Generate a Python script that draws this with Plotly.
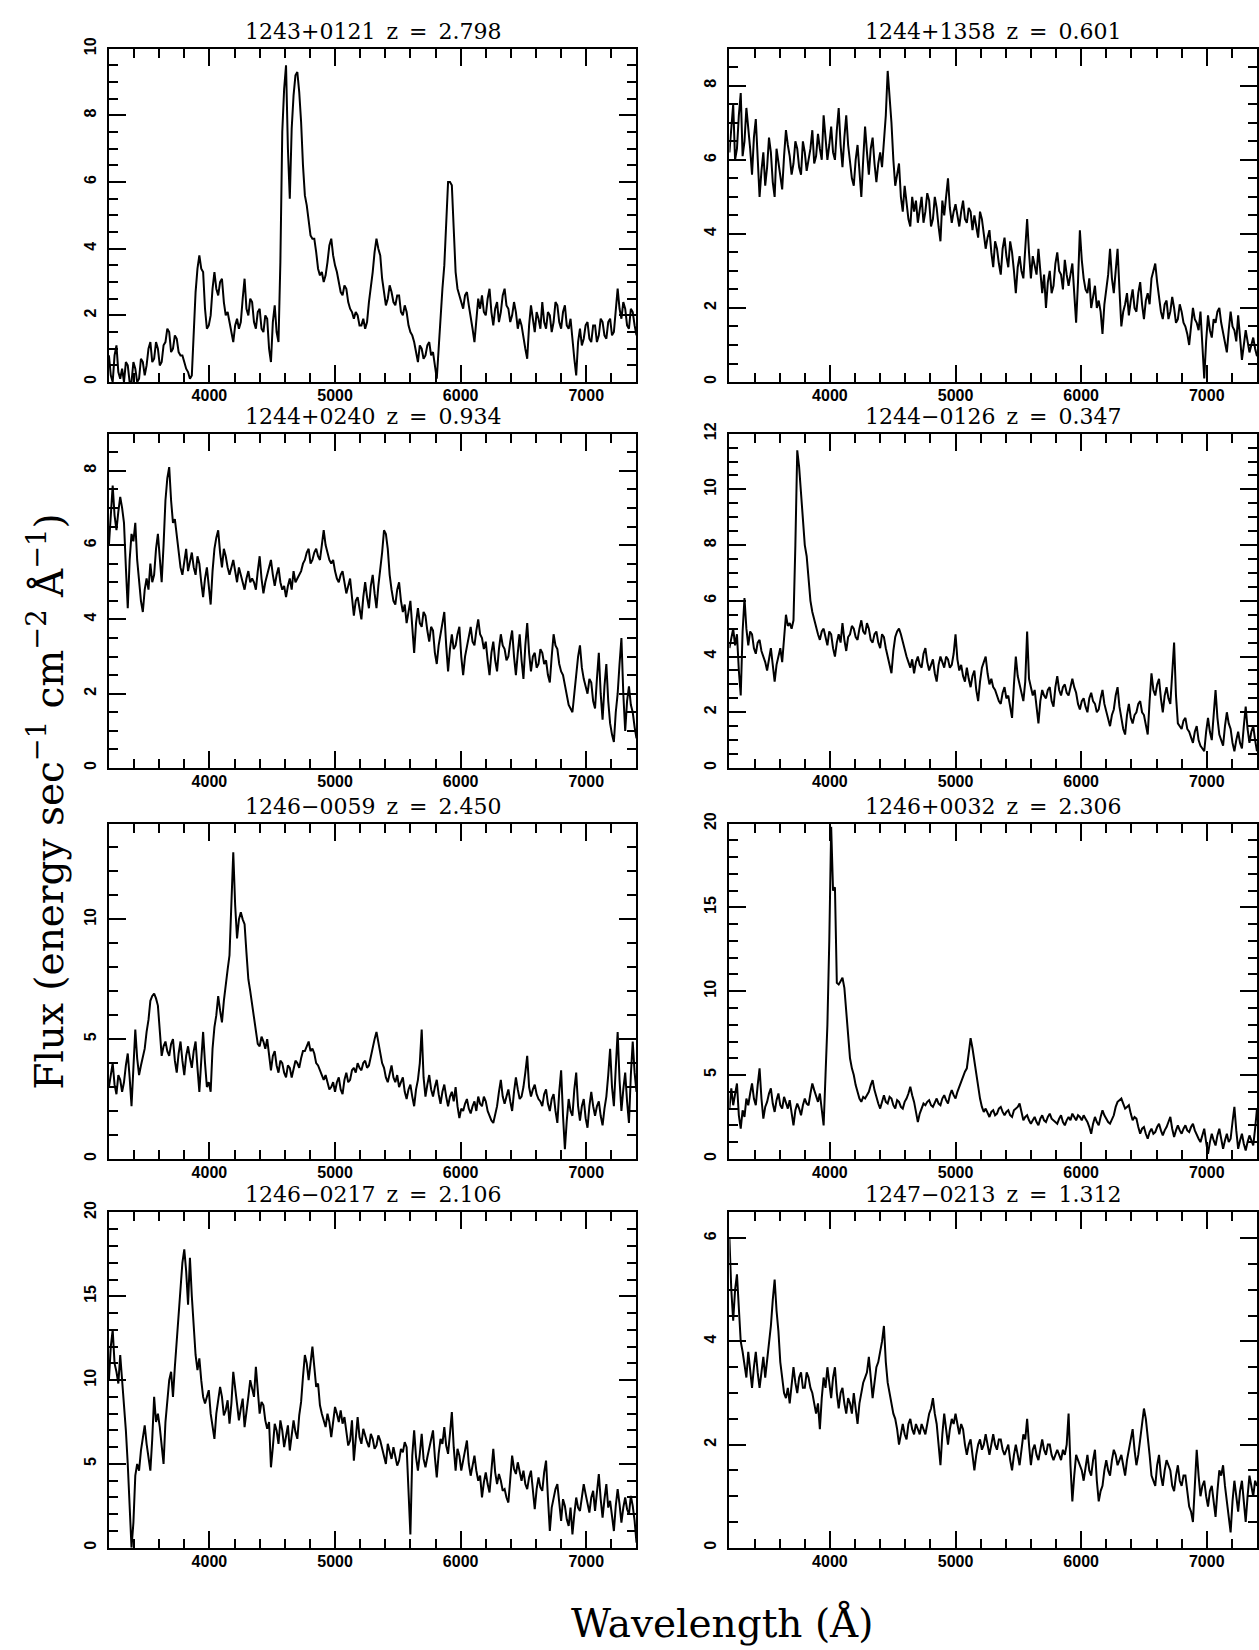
import plotly.graph_objects as go

# ---------------- data ----------------
# wavelength sampling grid (Angstrom)
WAVELENGTH = list(range(3200, 7401, 15))

NAMES = ["1243+0121", "1244+1358", "1244+0240", "1244\u22120126",
         "1246\u22120059", "1246+0032", "1246\u22120217", "1247\u22120213"]
REDSHIFTS = ["2.798", "0.601", "0.934", "0.347", "2.450", "2.306", "2.106", "1.312"]

FLUX_1243_0121 = [
    0.8, 0.2, 0.0, 0.8, 1.1, 0.3, 0.1, 0.4, 0.0, 0.6, 0.5, 0.0, 0.0, 0.6, 0.4, 0.0, 0.1, 0.7, 0.6, 0.2,
    0.5, 1.0, 1.2, 0.6, 0.7, 1.2, 1.0, 0.5, 0.6, 1.1, 1.2, 1.6, 1.5, 0.9, 1.0, 1.4, 1.3, 0.9, 0.8, 0.8,
    0.6, 0.4, 0.3, 0.1, 0.2, 1.4, 2.7, 3.4, 3.8, 3.4, 3.3, 2.2, 1.6, 1.7, 2.0, 2.8, 3.3, 2.8, 2.6, 3.0,
    3.1, 2.4, 2.0, 2.1, 1.8, 1.6, 1.2, 1.7, 1.9, 1.6, 1.8, 2.5, 3.1, 2.2, 2.0, 2.5, 2.4, 1.8, 1.6, 2.1,
    2.2, 1.6, 1.5, 2.0, 1.9, 1.0, 0.6, 1.8, 2.3, 1.5, 1.2, 3.6, 7.5, 8.8, 9.5, 7.0, 5.5, 7.6, 8.6, 9.2,
    9.3, 8.7, 7.8, 6.5, 5.6, 5.3, 4.8, 4.4, 4.3, 4.3, 3.9, 3.4, 3.2, 3.3, 3.0, 3.2, 3.6, 4.1, 4.3, 3.8,
    3.5, 3.3, 3.0, 2.7, 2.6, 2.9, 2.8, 2.4, 2.2, 2.1, 1.9, 2.1, 2.0, 1.7, 1.7, 1.9, 1.6, 1.8, 2.4, 2.8,
    3.3, 3.9, 4.3, 4.0, 3.8, 3.1, 2.6, 2.3, 2.5, 2.9, 2.7, 2.4, 2.3, 2.6, 2.6, 2.1, 2.0, 2.3, 2.1, 1.7,
    1.5, 1.4, 1.2, 0.9, 0.6, 1.1, 1.0, 0.7, 0.8, 1.1, 1.2, 0.8, 0.9, 0.5, 0.1, 1.0, 2.0, 2.8, 3.5, 4.8,
    6.0, 6.0, 5.9, 4.6, 3.3, 2.8, 2.6, 2.4, 2.2, 2.6, 2.7, 2.3, 2.0, 1.6, 1.2, 2.0, 2.5, 2.2, 2.6, 2.1,
    2.0, 2.5, 2.8, 2.1, 1.7, 2.2, 2.4, 1.8, 2.1, 2.6, 2.8, 2.3, 2.2, 1.8, 2.0, 2.4, 2.1, 1.6, 1.9, 1.7,
    1.3, 1.0, 0.7, 1.7, 2.3, 1.8, 1.5, 2.1, 1.9, 1.6, 2.4, 1.8, 1.6, 2.1, 2.0, 1.5, 1.8, 2.4, 2.3, 1.8,
    1.6, 2.1, 2.3, 1.7, 1.6, 1.9, 1.2, 0.7, 0.2, 1.2, 1.6, 1.1, 1.3, 1.7, 1.8, 1.3, 1.2, 1.7, 1.7, 1.2,
    1.4, 1.9, 1.8, 1.4, 1.3, 1.8, 1.9, 1.4, 1.5, 2.1, 2.8, 2.2, 1.9, 2.4, 2.2, 1.7, 1.6, 2.2, 2.1, 1.7,
    1.4,
]

FLUX_1244_1358 = [
    6.2, 6.8, 7.5, 6.0, 6.3, 7.2, 7.8, 6.1, 6.5, 7.4, 6.9, 6.3, 5.6, 6.6, 7.1, 5.9, 5.0, 5.7, 6.2, 5.3,
    5.8, 6.6, 6.2, 5.4, 5.0, 6.3, 5.9, 5.5, 5.2, 6.1, 6.8, 6.4, 6.1, 5.6, 5.9, 6.5, 6.3, 5.8, 5.6, 6.5,
    6.2, 5.7, 6.0, 6.3, 6.8, 5.9, 6.1, 6.7, 6.3, 6.0, 7.2, 6.5, 6.0, 6.4, 6.9, 6.2, 6.0, 6.8, 7.4, 6.4,
    5.8, 6.6, 7.2, 6.4, 6.0, 5.5, 5.3, 6.0, 6.4, 5.6, 5.0, 6.0, 6.9, 6.2, 5.6, 6.3, 6.6, 5.9, 5.4, 5.9,
    6.2, 5.8, 6.6, 7.2, 8.4, 7.8, 7.0, 6.0, 5.3, 5.6, 5.9, 5.0, 4.6, 5.3, 4.9, 4.4, 4.2, 5.0, 4.6, 4.9,
    4.3, 4.7, 5.0, 4.3, 4.6, 5.1, 4.9, 4.2, 4.4, 5.0, 4.7, 4.2, 3.8, 4.9, 4.5, 5.0, 5.5, 4.7, 4.3, 4.6,
    4.8, 4.5, 4.2, 4.6, 4.9, 4.4, 4.3, 4.7, 4.6, 4.1, 4.5, 4.2, 3.9, 4.6, 4.4, 4.0, 3.6, 3.9, 4.1, 3.5,
    3.1, 3.8, 3.6, 3.2, 2.9, 3.6, 3.9, 3.4, 3.1, 3.8, 3.5, 3.0, 2.4, 3.1, 3.4, 3.0, 2.8, 3.6, 4.4, 3.5,
    2.8, 3.4, 3.1, 2.9, 3.6, 3.0, 2.4, 2.9, 2.0, 2.7, 3.0, 2.4, 2.6, 3.2, 3.5, 3.0, 2.9, 2.5, 3.3, 2.9,
    2.6, 2.9, 3.2, 2.4, 1.6, 2.7, 4.1, 3.3, 2.8, 2.5, 2.4, 2.8, 2.0, 2.3, 2.6, 2.0, 2.2, 1.9, 1.3, 2.1,
    2.5, 2.9, 3.6, 2.8, 2.4, 3.0, 3.6, 2.5, 1.5, 1.9, 2.1, 2.4, 1.8, 2.2, 2.5, 2.0, 1.9, 2.4, 2.7, 2.1,
    1.7, 2.2, 2.4, 2.1, 2.8, 3.0, 3.2, 2.7, 2.3, 1.9, 1.7, 2.1, 2.2, 1.7, 1.9, 2.3, 2.0, 1.6, 1.7, 2.1,
    1.9, 1.6, 1.5, 1.3, 1.0, 1.6, 2.0, 1.7, 1.6, 1.4, 1.9, 1.0, 0.1, 1.1, 1.8, 1.4, 1.2, 1.7, 1.6, 1.9,
    2.0, 1.6, 1.3, 1.0, 0.8, 1.4, 1.9, 1.5, 1.4, 1.1, 1.8, 1.2, 0.6, 1.0, 1.4, 1.1, 0.8, 1.0, 1.2, 0.9,
    0.7,
]

FLUX_1244_0240 = [
    6.0, 6.7, 7.6, 6.8, 6.4, 6.9, 7.3, 7.0, 6.6, 5.4, 4.3, 5.6, 6.3, 6.1, 6.6, 5.6, 5.0, 4.5, 4.2, 4.8,
    5.1, 4.8, 5.5, 5.0, 5.2, 5.9, 6.3, 5.6, 5.0, 6.0, 7.2, 7.8, 8.1, 7.2, 6.6, 6.7, 6.3, 5.8, 5.4, 5.2,
    5.6, 5.9, 5.3, 5.6, 5.8, 5.4, 5.2, 5.7, 5.5, 5.0, 4.6, 5.1, 5.4, 4.9, 4.4, 5.3, 5.9, 6.2, 6.4, 5.8,
    5.4, 5.9, 5.7, 5.4, 5.2, 5.4, 5.6, 5.3, 5.0, 5.4, 5.2, 5.0, 4.8, 5.1, 5.3, 5.0, 5.1, 5.0, 4.8, 5.3,
    5.7, 5.1, 4.7, 5.0, 5.2, 5.4, 5.6, 5.2, 4.9, 5.2, 5.4, 5.0, 4.8, 4.9, 4.6, 4.9, 5.1, 4.8, 5.3, 5.0,
    5.1, 5.2, 5.3, 5.5, 5.6, 5.8, 5.9, 5.5, 5.6, 5.8, 5.9, 5.7, 5.6, 6.0, 6.4, 6.0, 5.8, 5.6, 5.5, 5.6,
    5.3, 5.1, 5.0, 5.2, 5.3, 5.0, 4.7, 4.9, 5.1, 4.6, 4.1, 4.5, 4.6, 4.3, 4.0, 4.6, 5.0, 4.6, 4.3, 4.9,
    5.2, 4.7, 4.3, 4.9, 5.3, 5.8, 6.4, 6.3, 5.9, 5.2, 4.8, 4.5, 4.4, 4.8, 5.0, 4.5, 4.2, 4.4, 3.9, 4.2,
    4.5, 3.8, 3.1, 3.9, 4.3, 3.9, 3.8, 4.2, 4.1, 3.7, 3.4, 3.8, 3.7, 3.1, 2.8, 3.3, 3.6, 3.9, 4.2, 3.3,
    2.6, 3.2, 3.6, 3.2, 3.3, 3.6, 3.8, 3.0, 2.5, 3.0, 3.3, 3.6, 3.8, 3.4, 3.3, 3.7, 4.0, 3.6, 3.5, 3.2,
    3.4, 2.9, 2.5, 3.1, 3.4, 2.9, 2.6, 3.2, 3.6, 3.3, 3.2, 2.9, 3.0, 3.4, 3.7, 3.0, 2.5, 3.1, 3.6, 2.9,
    2.4, 3.3, 3.9, 3.1, 2.6, 3.0, 3.1, 2.7, 2.8, 3.2, 3.1, 2.8, 2.9, 2.5, 2.3, 3.0, 3.6, 3.3, 3.2, 2.8,
    2.6, 2.5, 2.2, 1.9, 1.7, 1.6, 1.5, 2.0, 2.6, 3.0, 3.3, 2.7, 2.4, 2.2, 2.0, 2.4, 2.3, 1.8, 1.6, 2.4,
    3.1, 2.0, 1.3, 2.2, 2.8, 1.8, 1.2, 0.9, 0.7, 1.5, 2.0, 2.8, 3.5, 2.0, 1.0, 1.8, 2.2, 1.7, 1.5, 1.1,
    0.8,
]

FLUX_1244_0126 = [
    4.3, 4.7, 5.0, 4.4, 4.8, 3.5, 2.6, 4.9, 6.1, 5.0, 4.4, 4.9, 4.8, 4.3, 4.1, 4.5, 4.6, 4.2, 4.0, 3.8,
    3.5, 3.9, 4.3, 3.7, 3.1, 3.7, 4.0, 4.3, 3.8, 4.8, 5.5, 5.1, 5.2, 5.0, 5.3, 8.0, 11.4, 10.8, 9.8, 8.8,
    8.0, 7.6, 6.6, 6.0, 5.6, 5.3, 5.0, 4.8, 4.6, 4.9, 5.0, 4.7, 4.4, 4.9, 4.8, 4.3, 4.0, 4.5, 4.8, 4.5,
    5.2, 4.6, 4.2, 4.7, 4.8, 5.1, 5.0, 4.7, 4.6, 5.0, 5.3, 4.9, 4.8, 5.2, 5.0, 4.6, 4.5, 4.8, 4.9, 4.5,
    4.3, 4.8, 4.7, 4.3, 4.0, 3.6, 3.4, 4.2, 4.7, 4.9, 5.0, 4.8, 4.5, 4.2, 4.0, 3.8, 3.6, 3.9, 3.4, 3.8,
    4.0, 3.7, 3.6, 4.1, 4.3, 3.8, 3.5, 3.7, 3.9, 3.4, 3.1, 3.7, 4.0, 3.8, 3.6, 4.0, 3.9, 3.6, 3.7, 4.1,
    4.8, 3.9, 3.5, 3.7, 3.3, 3.1, 3.6, 3.2, 2.9, 3.3, 3.5, 2.8, 2.4, 3.1, 3.6, 3.8, 4.0, 3.4, 3.0, 3.2,
    2.9, 2.8, 2.6, 2.4, 2.3, 2.7, 2.9, 2.5, 2.6, 2.1, 1.8, 3.0, 4.0, 3.3, 3.0, 2.6, 2.4, 3.1, 4.9, 3.2,
    2.9, 2.6, 2.8, 2.1, 1.6, 2.4, 2.8, 2.6, 2.5, 2.8, 2.9, 2.4, 2.2, 2.9, 3.3, 2.8, 2.6, 2.9, 3.0, 2.7,
    2.6, 2.9, 3.2, 2.9, 2.7, 2.3, 2.1, 2.4, 2.5, 2.2, 2.0, 2.5, 2.7, 2.4, 2.3, 2.0, 2.1, 2.5, 2.8, 2.3,
    2.0, 1.7, 1.5, 1.9, 2.1, 2.6, 2.9, 2.2, 1.8, 1.4, 1.2, 1.9, 2.3, 1.8, 1.6, 1.9, 2.0, 2.3, 2.4, 2.0,
    1.9, 1.5, 1.2, 2.4, 3.4, 2.8, 2.6, 3.0, 3.2, 2.5, 2.0, 2.6, 2.9, 2.5, 2.3, 3.4, 4.5, 2.6, 1.6, 1.5,
    1.4, 1.7, 1.8, 1.4, 1.3, 1.1, 0.9, 1.3, 1.5, 1.0, 0.8, 0.7, 0.6, 1.3, 1.8, 1.3, 1.0, 1.9, 2.8, 1.8,
    1.2, 1.0, 0.8, 1.5, 2.0, 1.6, 1.4, 0.9, 0.6, 1.0, 1.3, 0.9, 0.7, 1.5, 2.2, 1.4, 0.9, 1.3, 1.5, 1.0,
    0.6,
]

FLUX_1246_0059 = [
    3.0, 3.6, 4.0, 3.1, 2.7, 3.5, 3.3, 2.8, 3.2, 3.9, 4.4, 3.4, 2.2, 3.8, 5.4, 4.2, 3.5, 3.9, 4.3, 4.6,
    5.3, 5.8, 6.6, 6.8, 6.9, 6.7, 6.4, 5.2, 4.3, 4.7, 4.9, 4.5, 4.3, 4.8, 5.0, 4.1, 3.6, 4.4, 4.9, 4.1,
    3.5, 4.3, 4.7, 4.2, 3.8, 4.5, 4.9, 3.8, 2.8, 4.1, 5.3, 4.0, 3.0, 3.2, 2.8, 4.6, 5.5, 6.0, 6.8, 6.2,
    5.7, 6.6, 7.4, 7.9, 8.5, 11.0, 12.8, 10.6, 9.2, 10.0, 10.3, 10.0, 9.8, 8.6, 7.5, 7.0, 6.4, 5.8, 5.2, 4.8,
    4.7, 5.1, 4.9, 4.6, 5.0, 4.2, 3.7, 4.3, 4.5, 3.9, 3.6, 4.1, 4.0, 3.6, 3.4, 3.9, 3.8, 3.4, 3.7, 4.1,
    4.0, 3.8, 4.2, 4.5, 4.5, 4.7, 4.9, 4.5, 4.6, 4.4, 4.0, 3.9, 3.7, 3.5, 3.3, 3.5, 3.2, 2.9, 3.0, 3.2,
    2.8, 3.2, 3.4, 2.9, 2.7, 3.3, 3.6, 3.2, 3.3, 3.7, 3.8, 3.6, 4.0, 3.8, 3.7, 4.0, 4.1, 3.8, 3.9, 4.3,
    4.6, 5.0, 5.3, 4.8, 4.4, 4.0, 3.8, 3.4, 3.2, 3.6, 3.9, 3.4, 3.2, 3.5, 3.0, 3.2, 3.4, 2.8, 2.5, 2.9,
    3.1, 2.6, 2.2, 2.9, 3.3, 4.0, 5.4, 3.4, 2.6, 3.1, 3.5, 2.9, 2.6, 3.0, 3.3, 2.7, 2.3, 2.8, 3.1, 2.6,
    2.2, 2.6, 2.8, 2.4, 3.0, 2.2, 1.7, 2.1, 2.0, 2.3, 2.5, 2.1, 1.9, 2.2, 2.4, 2.0, 2.6, 2.3, 2.2, 2.6,
    2.4, 2.0, 1.8, 1.6, 1.5, 1.9, 2.2, 2.8, 3.3, 2.6, 2.3, 2.6, 2.9, 2.4, 2.0, 2.8, 3.4, 2.9, 2.5, 2.6,
    3.0, 3.6, 4.3, 3.0, 2.6, 2.9, 3.1, 2.7, 2.5, 2.4, 2.2, 2.7, 2.9, 2.3, 2.0, 2.5, 2.7, 2.0, 1.5, 2.8,
    3.7, 1.8, 0.4, 1.6, 2.5, 2.0, 1.8, 2.9, 3.6, 2.2, 1.6, 2.2, 2.5, 1.7, 1.3, 2.2, 2.8, 2.2, 1.8, 2.2,
    2.4, 1.8, 1.4, 2.1, 2.6, 3.5, 4.6, 3.0, 2.2, 3.8, 5.3, 3.3, 2.0, 2.9, 3.6, 2.4, 1.5, 3.5, 4.9, 3.6,
    2.8,
]

FLUX_1246_0032 = [
    3.0, 4.2, 3.2, 3.8, 4.5, 2.6, 1.8, 2.9, 2.5, 3.6, 3.2, 3.9, 4.5, 3.6, 3.2, 4.4, 5.4, 3.6, 2.4, 3.1,
    3.4, 3.9, 4.2, 3.3, 2.8, 3.5, 3.9, 3.2, 3.0, 3.7, 3.4, 3.0, 3.5, 2.6, 2.0, 2.9, 3.3, 3.0, 2.6, 3.2,
    3.6, 3.3, 3.2, 3.9, 4.5, 4.1, 3.8, 3.4, 3.9, 2.9, 2.0, 5.0, 8.0, 13.0, 19.8, 16.0, 16.2, 10.5, 10.4, 10.6,
    10.8, 10.2, 8.8, 7.2, 6.0, 5.4, 5.0, 4.4, 4.0, 3.6, 3.4, 3.7, 3.6, 3.8, 4.0, 4.4, 4.7, 4.1, 3.6, 3.3,
    3.0, 3.5, 3.8, 3.4, 3.3, 3.7, 3.6, 3.2, 3.0, 3.5, 3.4, 3.1, 3.0, 3.4, 3.6, 3.9, 4.3, 3.8, 3.4, 2.8,
    2.2, 2.7, 3.0, 3.3, 3.2, 3.4, 3.5, 3.2, 3.1, 3.4, 3.6, 3.3, 3.2, 3.6, 3.8, 3.5, 3.3, 3.8, 4.1, 3.8,
    3.6, 4.0, 4.3, 4.6, 5.0, 5.2, 5.4, 6.3, 7.2, 6.6, 5.8, 5.0, 4.3, 3.6, 3.1, 2.8, 3.0, 2.7, 2.5, 2.8,
    2.9, 2.6, 2.7, 3.0, 3.1, 2.8, 2.6, 2.8, 2.9, 2.6, 2.5, 2.9, 3.0, 3.1, 3.3, 2.7, 2.3, 2.5, 2.6, 2.3,
    2.1, 2.3, 2.5, 2.2, 2.0, 2.4, 2.6, 2.3, 2.2, 2.5, 2.7, 2.4, 2.3, 2.2, 2.1, 2.4, 2.6, 2.2, 2.0, 2.3,
    2.5, 2.3, 2.7, 2.5, 2.3, 2.6, 2.5, 2.3, 2.6, 2.4, 2.2, 1.9, 1.5, 2.1, 2.5, 2.2, 2.0, 2.5, 2.9, 2.6,
    2.4, 2.2, 2.1, 2.4, 2.6, 3.1, 3.4, 3.5, 3.6, 3.3, 3.0, 3.1, 3.2, 2.7, 2.3, 2.5, 2.4, 1.9, 1.5, 1.8,
    1.9, 1.5, 1.2, 1.6, 1.8, 1.5, 1.6, 1.9, 2.1, 1.7, 1.4, 1.7, 1.9, 2.2, 2.5, 1.8, 1.3, 1.7, 2.0, 1.7,
    1.5, 1.8, 2.0, 1.7, 1.6, 1.9, 2.1, 1.7, 1.4, 1.2, 1.0, 1.4, 1.8, 1.0, 0.3, 1.0, 1.5, 1.1, 0.8, 1.4,
    1.8, 1.2, 0.6, 1.1, 1.5, 1.0, 1.2, 2.2, 3.1, 1.7, 0.6, 1.1, 1.5, 0.9, 0.5, 1.0, 1.4, 1.1, 0.8, 1.8,
    3.0,
]

FLUX_1246_0217 = [
    10.0, 12.0, 13.0, 11.0, 10.5, 9.8, 11.5, 10.0, 8.8, 7.0, 5.0, 2.0, 0.0, 1.5, 4.3, 5.0, 4.6, 5.8, 6.5, 7.3,
    6.2, 5.2, 4.6, 6.5, 9.0, 7.5, 8.0, 7.2, 6.0, 5.0, 7.5, 8.8, 10.0, 10.5, 9.0, 10.8, 12.5, 14.0, 15.8, 17.0,
    17.8, 16.5, 14.5, 17.3, 15.0, 13.5, 11.5, 10.6, 11.3, 10.0, 9.0, 8.6, 9.0, 9.4, 8.0, 7.2, 6.5, 8.0, 8.8, 9.6,
    9.0, 7.9, 8.2, 8.8, 7.4, 8.6, 10.5, 9.4, 8.5, 7.6, 8.3, 8.9, 7.2, 8.0, 9.0, 10.0, 9.4, 9.0, 10.8, 9.5,
    8.0, 8.7, 8.5, 7.6, 7.1, 7.5, 4.8, 6.0, 7.4, 7.0, 6.2, 7.6, 7.0, 6.0, 6.6, 7.3, 5.8, 6.8, 7.6, 6.9,
    6.5, 7.9, 8.7, 10.2, 11.5, 11.0, 10.0, 11.0, 12.0, 10.8, 9.6, 9.8, 8.5, 8.0, 7.6, 7.2, 8.0, 7.5, 6.6, 7.4,
    8.4, 8.0, 7.5, 8.2, 7.4, 7.8, 7.0, 6.1, 6.4, 7.6, 5.2, 6.5, 7.8, 6.6, 6.2, 7.1, 6.6, 6.3, 6.0, 6.8,
    6.5, 5.9, 6.1, 6.7, 6.4, 5.9, 5.6, 5.0, 6.2, 5.8, 5.3, 6.0, 5.5, 4.9, 5.2, 5.9, 5.7, 6.3, 6.0, 3.0,
    0.8, 5.5, 7.0, 5.4, 4.6, 5.6, 6.8, 5.3, 4.8, 5.4, 6.0, 6.6, 7.0, 5.4, 4.2, 5.6, 6.5, 6.2, 7.2, 6.1,
    5.6, 6.8, 8.1, 6.0, 4.6, 5.9, 5.5, 4.6, 5.2, 5.9, 6.4, 5.0, 4.3, 4.9, 5.5, 4.6, 4.0, 4.3, 3.0, 3.9,
    4.5, 3.8, 3.3, 4.6, 5.9, 4.5, 3.8, 4.4, 4.0, 3.4, 3.5, 3.0, 2.7, 4.1, 5.5, 4.7, 4.4, 5.1, 4.6, 4.0,
    4.6, 3.8, 3.5, 4.2, 4.6, 3.2, 2.3, 3.5, 4.2, 3.6, 3.4, 4.5, 5.2, 3.0, 1.0, 2.4, 3.0, 3.5, 3.8, 2.6,
    1.6, 2.9, 2.5, 1.7, 1.3, 2.4, 0.8, 2.0, 3.0, 2.4, 2.2, 3.0, 3.8, 3.2, 2.6, 2.1, 3.0, 3.4, 2.2, 3.2,
    4.4, 2.9, 1.8, 2.9, 3.8, 2.4, 2.8, 1.9, 1.0, 2.5, 3.5, 2.6, 1.5, 2.4, 3.0, 2.3, 2.0, 3.1, 2.5, 1.6,
    0.3,
]

FLUX_1247_0213 = [
    6.0, 5.0, 4.4, 5.0, 5.3, 4.5, 4.0, 3.8, 3.5, 3.3, 3.8, 3.4, 3.1, 3.5, 3.8, 3.4, 3.1, 3.4, 3.7, 3.3,
    3.6, 4.0, 4.3, 4.8, 5.2, 4.6, 4.2, 3.6, 3.3, 3.0, 2.9, 3.1, 2.8, 3.2, 3.5, 3.2, 3.0, 3.3, 3.4, 3.1,
    3.1, 3.4, 3.3, 3.1, 3.0, 2.8, 2.6, 2.8, 2.3, 2.9, 3.3, 3.1, 3.5, 3.2, 2.9, 3.3, 3.5, 3.0, 2.7, 3.0,
    3.1, 2.8, 2.6, 2.9, 2.8, 2.6, 3.0, 2.7, 2.4, 2.8, 3.0, 3.2, 3.3, 3.4, 3.7, 3.2, 2.9, 3.2, 3.5, 3.6,
    3.8, 4.0, 4.3, 3.6, 3.2, 3.0, 2.8, 2.6, 2.5, 2.3, 2.0, 2.2, 2.4, 2.2, 2.1, 2.4, 2.5, 2.3, 2.2, 2.4,
    2.3, 2.2, 2.4, 2.3, 2.2, 2.4, 2.6, 2.7, 2.9, 2.6, 2.4, 2.0, 1.6, 2.2, 2.6, 2.3, 2.0, 2.3, 2.5, 2.4,
    2.6, 2.4, 2.2, 2.4, 2.3, 2.0, 1.8, 2.0, 2.1, 1.8, 1.5, 1.8, 2.0, 2.1, 1.9, 2.0, 2.2, 2.0, 1.8, 2.0,
    2.2, 2.0, 1.9, 2.1, 2.1, 1.9, 1.8, 1.9, 2.0, 1.7, 1.5, 1.8, 2.0, 1.8, 1.6, 1.9, 2.2, 2.1, 2.5, 2.0,
    1.6, 1.9, 2.0, 1.8, 1.7, 1.9, 2.1, 1.9, 1.8, 2.0, 2.0, 1.8, 1.7, 1.8, 1.9, 1.8, 1.7, 1.9, 1.8, 2.0,
    2.6, 1.6, 0.9, 1.4, 1.8, 1.7, 1.6, 1.5, 1.3, 1.6, 1.8, 1.5, 1.4, 1.7, 1.9, 1.3, 0.9, 1.1, 1.2, 1.5,
    1.7, 1.5, 1.4, 1.7, 1.9, 1.8, 1.6, 1.7, 1.8, 1.6, 1.4, 1.7, 1.9, 2.1, 2.3, 1.9, 1.6, 1.8, 2.1, 2.4,
    2.7, 2.5, 2.2, 1.8, 1.4, 1.3, 1.2, 1.6, 1.8, 1.4, 1.2, 1.5, 1.7, 1.6, 1.5, 1.2, 1.1, 1.4, 1.6, 1.3,
    1.2, 1.4, 1.4, 1.1, 0.8, 0.7, 0.5, 1.2, 1.9, 1.4, 1.0, 1.2, 1.3, 1.0, 0.8, 1.1, 1.2, 0.9, 0.6, 1.1,
    1.5, 1.4, 1.6, 1.2, 0.9, 0.6, 0.3, 0.9, 1.3, 1.0, 0.7, 1.1, 1.3, 0.9, 0.5, 1.0, 1.4, 1.2, 1.0, 1.3,
    1.2,
]

FLUXES = [FLUX_1243_0121, FLUX_1244_1358, FLUX_1244_0240, FLUX_1244_0126,
          FLUX_1246_0059, FLUX_1246_0032, FLUX_1246_0217, FLUX_1247_0213]

Y_MAX = [10, 9, 9, 12, 14, 20, 20, 6.5]
Y_MAJOR = [2, 2, 2, 2, 5, 5, 5, 2]
Y_MINOR = [0.5, 0.5, 0.5, 0.5, 1, 1, 1, 0.5]
X_TICKS = [4000, 5000, 6000, 7000]
X_RANGE = [3200, 7400]

# ---------------- layout ----------------
W, H = 1259, 1650
COLS = [(109, 637), (730, 1258)]
ROWS = [(38, 374), (426, 763), (819, 1157), (1211, 1549)]

TICKFONT = dict(family="Liberation Sans", size=16, color="black", weight="bold")
TITLEFONT = dict(family="DejaVu Serif", size=22, color="black")
SP = "\u2002"  # wide space as in the original lettering

fig = go.Figure()
annotations = []
layout_axes = {}

for k in range(8):
    r, c = divmod(k, 2)
    n = k + 1
    xs = "" if n == 1 else str(n)
    x0, x1 = COLS[c]
    y0, y1 = ROWS[r]
    flux = FLUXES[k]
    wl = WAVELENGTH[:len(flux)]

    fig.add_trace(go.Scatter(
        x=wl, y=flux, mode="lines",
        line=dict(color="black", width=2),
        xaxis="x" + xs, yaxis="y" + xs,
        showlegend=False, hoverinfo="skip",
    ))

    layout_axes["xaxis" + xs] = dict(
        domain=[x0 / W, x1 / W], anchor="y" + xs, range=X_RANGE,
        showline=True, linecolor="black", linewidth=2, mirror="ticks",
        ticks="inside", ticklen=17, tickwidth=2, tickcolor="black",
        tickvals=X_TICKS, ticktext=[str(v) for v in X_TICKS],
        tickfont=TICKFONT, ticklabelstandoff=-2,
        minor=dict(dtick=200, tick0=0, ticks="inside", ticklen=9,
                   tickwidth=2, tickcolor="black", showgrid=False),
        showgrid=False, zeroline=False, fixedrange=True,
    )
    layout_axes["yaxis" + xs] = dict(
        domain=[1 - y1 / H, 1 - y0 / H], anchor="x" + xs, range=[0, Y_MAX[k]],
        showline=True, linecolor="black", linewidth=2, mirror="ticks",
        ticks="inside", ticklen=17, tickwidth=2, tickcolor="black",
        tick0=0, dtick=Y_MAJOR[k], tickangle=-90,
        tickfont=TICKFONT, ticklabelstandoff=5,
        minor=dict(dtick=Y_MINOR[k], tick0=0, ticks="inside", ticklen=9,
                   tickwidth=2, tickcolor="black", showgrid=False),
        showgrid=False, zeroline=False, fixedrange=True,
    )

    annotations.append(dict(
        text=f"{NAMES[k]}{SP}z{SP}={SP}{REDSHIFTS[k]}",
        x=(x0 + x1) / 2 / W, y=1 - (y0 - 4) / H,
        xref="paper", yref="paper", xanchor="center", yanchor="bottom",
        showarrow=False, font=TITLEFONT, borderpad=0,
    ))

# axis titles
annotations.append(dict(
    text="Flux (energy sec<sup>\u22121</sup>\u00a0cm<sup>\u22122</sup>\u00a0\u00c5<sup>\u22121</sup>)",
    x=46 / W, y=1 - 797 / H, xref="paper", yref="paper",
    xanchor="center", yanchor="middle", textangle=-90, showarrow=False,
    font=dict(family="DejaVu Serif", size=39, color="black"),
))
annotations.append(dict(
    text="Wavelength (\u00c5)",
    x=723 / W, y=1 - 1625 / H, xref="paper", yref="paper",
    xanchor="center", yanchor="middle", showarrow=False,
    font=dict(family="DejaVu Serif", size=39, color="black"),
))

fig.update_layout(
    width=W, height=H,
    margin=dict(l=0, r=0, t=0, b=0),
    paper_bgcolor="white", plot_bgcolor="white",
    annotations=annotations,
    **layout_axes,
)

fig.write_html("out.html", config={"displayModeBar": False})
